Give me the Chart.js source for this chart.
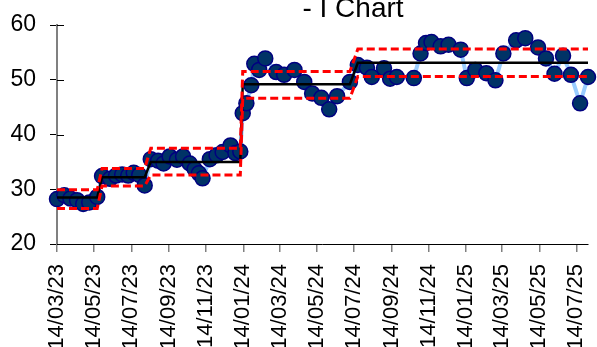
<!DOCTYPE html>
<html>
<head>
<meta charset="utf-8">
<script src="https://cdn.jsdelivr.net/npm/chart.js@4/dist/chart.umd.min.js"></script>
<style>
  html, body { margin: 0; padding: 0; background: #ffffff; }
  #wrap { width: 597px; height: 347px; }
</style>
</head>
<body>
<div id="wrap"><canvas id="chart" width="597" height="347"></canvas></div>
<script>
// Individual measurements
const sampleDates = [
  '2023-03-14','2023-03-26','2023-04-05','2023-04-16','2023-04-26','2023-05-06','2023-05-19',
  '2023-05-27','2023-06-09','2023-06-19','2023-06-29','2023-07-09','2023-07-18','2023-07-27','2023-08-05',
  '2023-08-15','2023-08-27','2023-09-05','2023-09-15','2023-09-27','2023-10-07','2023-10-18','2023-10-26',
  '2023-11-02','2023-11-08','2023-11-20','2023-12-01','2023-12-11','2023-12-24','2024-01-01','2024-01-09',
  '2024-01-13','2024-01-19','2024-01-27','2024-02-01','2024-02-09','2024-02-19','2024-03-08','2024-03-21',
  '2024-04-07','2024-04-23','2024-05-06','2024-05-21','2024-06-03','2024-06-16','2024-07-07',
  '2024-07-20','2024-08-04','2024-08-12','2024-09-01','2024-09-11','2024-09-22','2024-10-20','2024-10-31',
  '2024-11-09','2024-11-18','2024-12-03','2024-12-16','2025-01-05','2025-01-15','2025-01-29','2025-02-16',
  '2025-03-03','2025-03-16','2025-04-06','2025-04-21','2025-05-12','2025-05-25','2025-06-08','2025-06-22',
  '2025-07-05','2025-07-20','2025-08-02'
];
const sampleValues = [
  28.2, 28.9, 28.3, 28.0, 27.3, 27.6, 28.6,
  32.4, 31.9, 32.5, 32.7, 32.5, 33.0, 32.6, 30.7,
  35.5, 35.2, 34.7, 36.0, 35.4, 36.0, 34.7, 33.7,
  32.9, 32.0, 35.5, 36.2, 36.8, 38.0, 36.6, 36.9,
  43.9, 45.7, 49.0, 52.9, 51.8, 53.9, 51.4, 50.9,
  51.8, 49.6, 47.5, 46.7, 44.6, 47.0, 49.6,
  52.7, 52.2, 50.5, 52.1, 50.2, 50.5, 50.3, 54.8,
  56.7, 56.9, 56.1, 56.4, 55.5, 50.3, 51.8, 51.2,
  49.9, 54.8, 57.2, 57.6, 55.9, 53.9, 51.1, 54.4,
  50.9, 45.7, 50.5
];

// Process phases: first date of each phase with its centre line and limits
const phaseStartDates = ['2023-03-14', '2023-05-27', '2023-08-15', '2024-01-13', '2024-07-20'];
const phaseMean = [28.5, 32.2, 35.0, 49.2, 53.1];
const phaseUCL  = [29.9, 33.8, 37.5, 51.5, 55.6];
const phaseLCL  = [26.5, 30.6, 32.6, 46.6, 50.6];

// Date axis ticks (every two months)
const tickDates = [
  '2023-03-14','2023-05-14','2023-07-14','2023-09-14','2023-11-14',
  '2024-01-14','2024-03-14','2024-05-14','2024-07-14','2024-09-14','2024-11-14',
  '2025-01-14','2025-03-14','2025-05-14','2025-07-14'
];

const chartTitle = '- I Chart';

const DAY = 86400000;
const originMs = Date.parse(sampleDates[0] + 'T00:00:00Z');
const toDay = s => Math.round((Date.parse(s + 'T00:00:00Z') - originMs) / DAY);
const pad2 = n => String(n).padStart(2, '0');
const fmtDay = d => {
  const dt = new Date(originMs + d * DAY);
  return pad2(dt.getUTCDate()) + '/' + pad2(dt.getUTCMonth() + 1) + '/' + pad2(dt.getUTCFullYear() % 100);
};

const sampleDays = sampleDates.map(toDay);
const phaseStartDays = phaseStartDates.map(toDay);
const tickDays = tickDates.map(toDay);
const phaseOf = d => {
  let p = 0;
  for (let i = 0; i < phaseStartDays.length; i++) if (d >= phaseStartDays[i]) p = i;
  return p;
};

const series = arr => sampleDays.map(d => ({ x: d, y: arr[phaseOf(d)] }));
const points = sampleDays.map((d, i) => ({ x: d, y: sampleValues[i] }));

const FONT = "'Liberation Sans', Arial, sans-serif";

// cross-style y ticks (inner half) and the title text
const extras = {
  id: 'extras',
  beforeDatasetsDraw(chart) {
    const ctx = chart.ctx;
    const y = chart.scales.y;
    const left = chart.chartArea.left;
    ctx.save();
    ctx.strokeStyle = '#000000';
    ctx.lineWidth = 1;
    y.ticks.forEach(t => {
      const py = Math.round(y.getPixelForValue(t.value)) + 0.5;
      ctx.beginPath();
      ctx.moveTo(left, py);
      ctx.lineTo(left + 7, py);
      ctx.stroke();
    });
    ctx.restore();
  },
  afterDraw(chart) {
    const ctx = chart.ctx;
    ctx.save();
    ctx.fillStyle = '#000000';
    ctx.font = '28px ' + FONT;
    ctx.textAlign = 'center';
    ctx.textBaseline = 'alphabetic';
    ctx.fillText(chartTitle, 353, 17);
    ctx.restore();
  }
};

new Chart(document.getElementById('chart'), {
  type: 'line',
  data: {
    datasets: [
      {
        label: 'UCL', data: series(phaseUCL), order: 0,
        borderColor: '#FF0000', borderWidth: 3, borderDash: [8, 4],
        pointRadius: 0, fill: false, tension: 0
      },
      {
        label: 'LCL', data: series(phaseLCL), order: 0,
        borderColor: '#FF0000', borderWidth: 3, borderDash: [8, 4],
        pointRadius: 0, fill: false, tension: 0
      },
      {
        label: 'Mean', data: series(phaseMean), order: 1,
        borderColor: '#000000', borderWidth: 2.5,
        pointRadius: 0, fill: false, tension: 0
      },
      {
        label: 'Value', data: points, order: 2, clip: false,
        borderColor: '#99CCFF', borderWidth: 4,
        pointRadius: 7.5, pointBackgroundColor: '#003366',
        pointBorderColor: '#000080', pointBorderWidth: 1.5,
        fill: false, tension: 0
      }
    ]
  },
  options: {
    responsive: false,
    animation: false,
    devicePixelRatio: 1,
    layout: { padding: { top: 25, right: 7, left: 0, bottom: 0 } },
    plugins: { legend: { display: false }, tooltip: { enabled: false }, title: { display: false } },
    scales: {
      x: {
        type: 'linear',
        min: 0,
        max: sampleDays[sampleDays.length - 1],
        afterBuildTicks: s => { s.ticks = tickDays.map(v => ({ value: v })); },
        afterFit: s => { s.height = 103; s.paddingLeft = 0; s.paddingRight = 0; },
        ticks: {
          autoSkip: false, minRotation: 90, maxRotation: 90,
          color: '#000000', padding: 12,
          font: { family: FONT, size: 22 },
          callback: v => fmtDay(v)
        },
        grid: { drawOnChartArea: false, drawTicks: true, tickLength: 8, color: '#808080', lineWidth: 1.5 },
        border: { display: true, color: '#000000', width: 1 }
      },
      y: {
        min: 20, max: 60,
        afterFit: s => { s.width = 57; s.paddingTop = 0; s.paddingBottom = 0; },
        ticks: {
          stepSize: 10, color: '#000000', padding: 14,
          font: { family: FONT, size: 23 }
        },
        grid: { drawOnChartArea: false, drawTicks: true, tickLength: 7, color: '#000000', lineWidth: 1 },
        border: { display: true, color: '#808080', width: 2 }
      }
    }
  },
  plugins: [extras]
});
</script>
</body>
</html>
